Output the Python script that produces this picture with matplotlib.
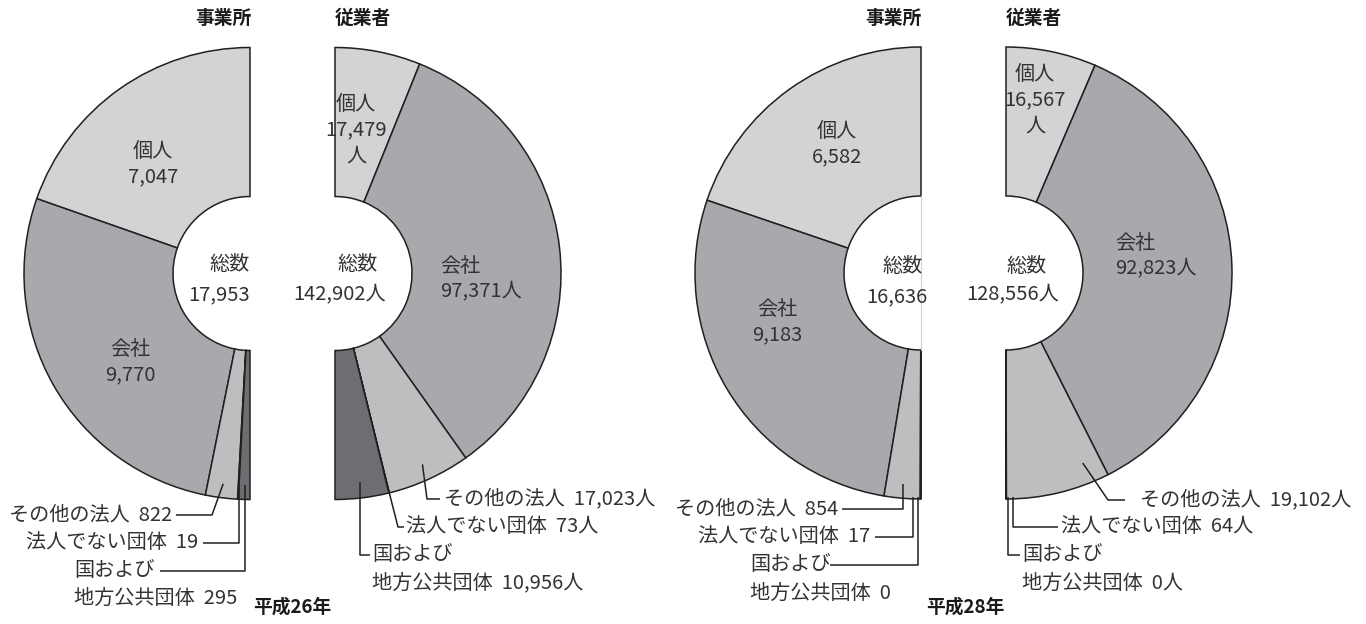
import matplotlib.pyplot as plt
from matplotlib.patches import Rectangle
import numpy as np

plt.rcParams['font.family'] = ['Noto Sans CJK JP', 'DejaVu Sans']

# 区分と色
categories = ['個人', '会社', 'その他の法人', '法人でない団体', '国および地方公共団体']
colors = ['#d1d3d4', '#a7a9ac', '#bcbec0', '#939598', '#6d6e71']

years = ['平成26年', '平成28年']
jigyosho_h26 = [7047, 9770, 822, 19, 295]        # 事業所
jugyosha_h26 = [17479, 97371, 17023, 73, 10956]  # 従業者（人）
jigyosho_h28 = [6582, 9183, 854, 17, 0]
jugyosha_h28 = [16567, 92823, 19102, 64, 0]

R_OUT, R_IN = 226, 77
TXT = '#333333'
LINE = '#231f20'
FS = 14.5
SP = '  '

fig = plt.figure(figsize=(13.66, 6.24), dpi=100)
ax = fig.add_axes([0, 0, 1, 1])


def half_donut(values, cx, cy, side):
    v = np.array(values, dtype=float)
    frac = v / v.sum() / 2
    # y axis is flipped (pixel coords) so 270 deg points up
    ax.pie(frac, colors=colors, normalize=False, startangle=270,
           counterclock=(side == 'right'), center=(cx, cy), radius=R_OUT,
           frame=True,
           wedgeprops=dict(width=R_OUT - R_IN, edgecolor=LINE, linewidth=1.1))
    edges = np.concatenate([[0], np.cumsum(frac) * 360])
    return (edges[:-1] + edges[1:]) / 2   # mid angle from the top


def on_ring(cx, cy, side, phi, rho):
    s = -1 if side == 'left' else 1
    return cx + s * rho * np.sin(np.radians(phi)), cy - rho * np.cos(np.radians(phi))


def leader(pts):
    xs, ys = zip(*pts)
    ax.plot(xs, ys, color=LINE, lw=1.1, solid_capstyle='butt')


def txt(x, y, s, ha='center', **kw):
    return ax.text(x, y, s, ha=ha, va='center', fontsize=FS, color=TXT,
                   linespacing=1.3, **kw)


kuni1, kuni2 = categories[4][:4], categories[4][4:]

# ---------------- 平成26年 事業所 ----------------
cx, cy = 250, 273.5
v = jigyosho_h26
mid = half_donut(v, cx, cy, 'left')
txt(153, 164, f'{categories[0]}\n{v[0]:,}')
txt(130, 362, f'{categories[1]}\n{v[1]:,}')
txt(250, 265, '総数', ha='right')
txt(250, 295, f'{sum(v):,}', ha='right')
p = on_ring(cx, cy, 'left', mid[2], 212)
leader([p, (212, 515), (176, 515)])
txt(172, 515, f'{categories[2]}{SP}{v[2]:,}', ha='right')
p = on_ring(cx, cy, 'left', mid[3], 212)
leader([p, (p[0], 543), (203, 543)])
txt(198, 543, f'{categories[3]}{SP}{v[3]:,}', ha='right')
p = on_ring(cx, cy, 'left', mid[4], 212)
leader([p, (p[0], 571), (160, 571)])
txt(74, 571, kuni1, ha='left')
txt(74, 598, f'{kuni2}{SP}{v[4]:,}', ha='left')

# ---------------- 平成26年 従業者 ----------------
cx, cy = 335, 273.5
v = jugyosha_h26
mid = half_donut(v, cx, cy, 'right')
txt(356, 130, f'{categories[0]}\n{v[0]:,}\n人')
txt(440, 279, f'{categories[1]}\n{v[1]:,}人', ha='left')
txt(337, 265, '総数', ha='left')
txt(340, 295, f'{sum(v):,}人')
p = on_ring(cx, cy, 'right', mid[2], 210)
leader([p, (427, 499), (440, 499)])
txt(444, 499, f'{categories[2]}{SP}{v[2]:,}人', ha='left')
p = on_ring(cx, cy, 'right', mid[3], 200)
leader([p, (398, 527), (404, 527)])
txt(406, 527, f'{categories[3]}{SP}{v[3]:,}人', ha='left')
p = on_ring(cx, cy, 'right', mid[4], 210)
leader([p, (p[0], 555), (370, 555)])
txt(372, 555, kuni1, ha='left')
txt(372, 583, f'{kuni2}{SP}{v[4]:,}人', ha='left')

# ---------------- 平成28年 事業所 ----------------
cx, cy = 921, 273
v = jigyosho_h28
mid = half_donut(v, cx, cy, 'left')
txt(837, 144, f'{categories[0]}\n{v[0]:,}')
txt(777, 322, f'{categories[1]}\n{v[1]:,}')
clip = Rectangle((0, 0), cx, 624, transform=ax.transData)
for t in (txt(923, 267, '総数', ha='right'), txt(928, 297, f'{sum(v):,}', ha='right')):
    t.set_clip_path(clip)
ax.plot([cx, cx], [cy - R_IN, cy + R_IN], color='#d0d0d0', lw=0.8)
p = on_ring(cx, cy, 'left', mid[2], 212)
leader([p, (p[0], 509), (842, 509)])
txt(838, 509, f'{categories[2]}{SP}{v[2]:,}', ha='right')
leader([(913, 497), (913, 537), (875, 537)])
txt(870, 537, f'{categories[3]}{SP}{v[3]:,}', ha='right')
leader([(918, 497), (918, 565), (830, 565)])
txt(750, 565, kuni1, ha='left')
txt(750, 593, f'{kuni2}{SP}{v[4]:,}', ha='left')

# ---------------- 平成28年 従業者 ----------------
cx, cy = 1006, 273
v = jugyosha_h28
mid = half_donut(v, cx, cy, 'right')
txt(1035, 100, f'{categories[0]}\n{v[0]:,}\n人')
txt(1115, 256, f'{categories[1]}\n{v[1]:,}人', ha='left')
txt(1027, 267, '総数')
txt(1013, 295, f'{sum(v):,}人')
p = on_ring(cx, cy, 'right', 158, 205)
leader([p, (1108, 500), (1125, 500)])
txt(1140, 500, f'{categories[2]}{SP}{v[2]:,}人', ha='left')
leader([(1013, 497), (1013, 527), (1058, 527)])
txt(1061, 527, f'{categories[3]}{SP}{v[3]:,}人', ha='left')
leader([(1008, 497), (1008, 555), (1020, 555)])
txt(1022, 555, kuni1, ha='left')
txt(1022, 583, f'{kuni2}{SP}{v[4]:,}人', ha='left')

# 見出し
for x, ha, s in [(251, 'right', '事業所'), (335, 'left', '従業者'),
                 (922, 'right', '事業所'), (1006, 'left', '従業者')]:
    ax.text(x, 18, s, ha=ha, va='center', fontsize=13.5, fontweight='bold', color='#1a1a1a')
for x, s in zip([292, 965], years):
    ax.text(x, 607, s, ha='center', va='center', fontsize=13.5, fontweight='bold', color='#1a1a1a')

ax.set_xlim(0, 1366)
ax.set_ylim(624, 0)
ax.set_aspect('auto')
ax.axis('off')

fig.savefig('out.png', dpi=100, facecolor='white')
